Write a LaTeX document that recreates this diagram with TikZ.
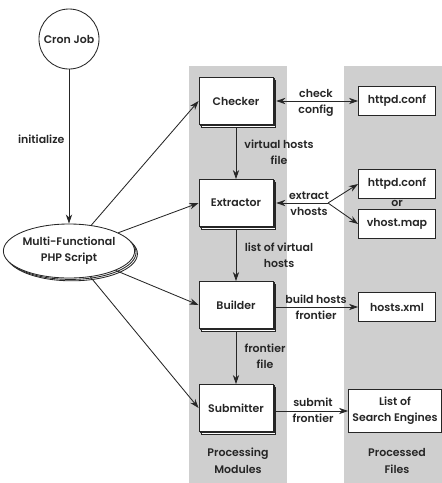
\documentclass[tikz,border=0pt]{standalone}
\usepackage{fontspec}
\setmainfont{Poppins}[UprightFont=* SemiBold]
\usetikzlibrary{arrows.meta,shapes.geometric,shadows,calc}
\definecolor{BandGray}{HTML}{CFCFCF}
\definecolor{InkGray}{HTML}{262626}

\begin{document}
\begin{tikzpicture}[x=0.025cm, y=-0.025cm, font=\fontsize{7.8}{11.5}\selectfont,
    >={Stealth[length=6.5pt,width=4.5pt]}, line width=0.6pt, draw=InkGray, text=InkGray,
    stacked/.style={copy shadow={shadow xshift=2pt, shadow yshift=-2pt},
                    copy shadow={shadow xshift=1pt, shadow yshift=-1pt}},
    modbox/.style={draw, fill=white, minimum width=1.85cm, minimum height=1.175cm, stacked},
    filebox/.style={draw, fill=white, minimum width=1.925cm, minimum height=0.725cm},
    lab/.style={align=center, inner sep=0pt}]
  \useasboundingbox (0,0) rectangle (442,483);

  % columns
  \fill[BandGray] (189,66) rectangle (287,483);
  \fill[BandGray] (344,66) rectangle (442,483);
  \node[lab] (modcap) at (238,461) {Processing\\[0.6pt]Modules};
  \node[lab] (filecap) at (397,461) {Processed\\[0.6pt]Files};

  % driver
  \node[draw, circle, fill=white, minimum size=1.5cm, inner sep=0pt] (cron) at (69,39) {Cron Job};
  \node[draw, ellipse, fill=white, minimum width=2.8cm, minimum height=1.35cm, inner sep=0pt,
        align=center, stacked] (script) at (69,251) {Multi-Functional\\PHP Script};
  \draw[->] (cron) -- (script) node[lab, pos=0.45, left=3pt] (initlab) {initialize};

  % modules
  \node[modbox] (checker) at (236,101) {Checker};
  \node[modbox] (extractor) at (236,203) {Extractor};
  \node[modbox] (builder) at (236,305) {Builder};
  \node[modbox] (submitter) at (236,408) {Submitter};

  \draw[->] (script) -- (checker.west);
  \draw[->] (script) -- (extractor.west);
  \draw[->] (script) -- (builder.west);
  \draw[->] (script) -- (submitter.west);

  \draw[->, shorten <=2pt] (checker.south) -- (extractor.north);
  \draw[->, shorten <=2pt] (extractor.south) -- (builder.north);
  \draw[->, shorten <=2pt] (builder.south) -- (submitter.north);
  \node[lab] (vhlab) at (279,152) {virtual hosts\\file};
  \node[lab] (listlab) at (279,255) {list of virtual\\hosts};
  \node[lab] (frlab) at (265,356) {frontier\\file};

  % files
  \node[filebox] (conf1) at (397,101) {httpd.conf};
  \node[filebox] (conf2) at (397,184) {httpd.conf};
  \node[lab] (orlab) at (397,203) {or};
  \node[filebox] (vmap) at (397,224) {vhost.map};
  \node[filebox] (hostsxml) at (397,307) {hosts.xml};
  \node[draw, fill=white, minimum width=2.325cm, minimum height=1.075cm, align=center,
        inner sep=1pt] (engines) at (395,411) {List of\\Search Engines};

  \draw[<->, shorten <=2pt] (checker.east) -- (conf1.west);
  \node[lab] (checklab) at (316,103) {check\\config};

  \coordinate (fork) at (328,203);
  \draw[->] (fork) -- ($(extractor.east)+(2pt,0)$);
  \draw[->] (fork) -- (conf2.west);
  \draw[->] (fork) -- (vmap.west);
  \node[lab] (extlab) at (309,204) {extract\\vhosts};

  \draw[->, shorten <=2pt] (builder.east |- hostsxml) -- (hostsxml.west);
  \node[lab] (buildlab) at (316,307) {build hosts\\frontier};

  \draw[->, shorten <=2pt] (submitter.east |- engines) -- (engines.west);
  \node[lab] (sublab) at (313,410) {submit\\frontier};
\end{tikzpicture}
\end{document}
